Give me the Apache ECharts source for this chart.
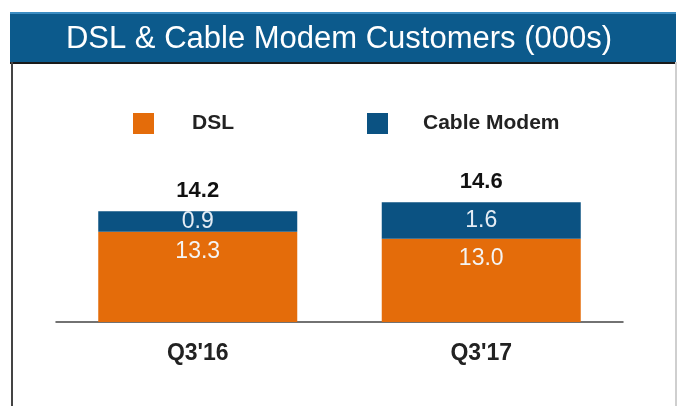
<!DOCTYPE html>
<html>
<head>
<meta charset="utf-8">
<script src="https://cdn.jsdelivr.net/npm/echarts@6/dist/echarts.min.js"></script>
<style>
  html, body { margin: 0; padding: 0; background: #fff; }
  #chart { width: 678px; height: 406px; }
</style>
</head>
<body>
<div id="chart"></div>
<script>
// values (000s)
var quarters = ["Q3'16", "Q3'17"];
var dslValues = [13.3, 13.0];
var cableValues = [0.9, 1.6];
var totalValues = [14.2, 14.6];

var FONT = "'Liberation Sans', Arial, sans-serif";
var ORANGE = '#e46c0a';
var BLUE = '#0b5282';

var chart = echarts.init(document.getElementById('chart'));

chart.setOption({
    animation: false,
    backgroundColor: '#fff',
    title: {
        text: 'DSL & Cable Modem Customers (000s)',
        left: 'center',
        top: 24,
        padding: 0,
        textStyle: {
            color: '#fff',
            fontFamily: FONT,
            fontSize: 31,
            fontWeight: 'normal'
        }
    },
    graphic: [
        // banner and frame
        { type: 'rect', z: -1, shape: { x: 10, y: 12, width: 666, height: 50 }, style: { fill: '#0c5a8c' } },
        { type: 'rect', z: -1, shape: { x: 10, y: 12, width: 666, height: 2 }, style: { fill: '#3b8cc2' } },
        { type: 'rect', z: -1, shape: { x: 10, y: 62, width: 666, height: 2 }, style: { fill: '#1a1a1a' } },
        { type: 'rect', z: -1, shape: { x: 11, y: 62, width: 2, height: 344 }, style: { fill: '#444' } },
        { type: 'rect', z: -1, shape: { x: 675, y: 62, width: 2, height: 344 }, style: { fill: '#cfcfcf' } }
    ],
    legend: [
        {
            data: ['DSL'],
            left: 133,
            top: 113,
            padding: 0,
            selectedMode: false,
            icon: 'rect',
            itemWidth: 21,
            itemHeight: 21,
            textStyle: {
                color: '#222',
                fontFamily: FONT,
                fontSize: 21,
                fontWeight: 'bold',
                padding: [8, 0, 0, 33]
            }
        },
        {
            data: ['Cable Modem'],
            left: 367,
            top: 113,
            padding: 0,
            selectedMode: false,
            icon: 'rect',
            itemWidth: 21,
            itemHeight: 21,
            textStyle: {
                color: '#222',
                fontFamily: FONT,
                fontSize: 21,
                fontWeight: 'bold',
                padding: [8, 0, 0, 30]
            }
        }
    ],
    grid: {
        left: 56,
        right: 55,
        top: 193,
        bottom: 84
    },
    xAxis: {
        type: 'category',
        data: quarters,
        axisLine: { lineStyle: { color: '#444', width: 1.5 } },
        axisTick: { show: false },
        axisLabel: {
            margin: 20,
            color: '#222',
            fontFamily: FONT,
            fontSize: 23,
            fontWeight: 'bold'
        }
    },
    yAxis: {
        type: 'value',
        min: 9.35,
        max: 15,
        show: false,
        splitLine: { show: false }
    },
    series: [
        {
            name: 'DSL',
            type: 'bar',
            stack: 'total',
            barWidth: 199,
            data: dslValues,
            itemStyle: { color: ORANGE },
            label: {
                show: true,
                position: 'insideTop',
                distance: 8,
                color: '#f4f4f4',
                fontFamily: FONT,
                fontSize: 23,
                formatter: function (p) { return p.value.toFixed(1); }
            }
        },
        {
            name: 'Cable Modem',
            type: 'bar',
            stack: 'total',
            data: cableValues,
            itemStyle: { color: BLUE },
            label: {
                show: true,
                position: 'inside',
                color: '#e4ecf4',
                fontFamily: FONT,
                fontSize: 23,
                formatter: function (p) { return p.value.toFixed(1); }
            }
        },
        {
            name: 'Total',
            type: 'bar',
            stack: 'total',
            data: [0, 0],
            itemStyle: { color: 'rgba(0,0,0,0)' },
            label: {
                show: true,
                position: 'top',
                distance: 9,
                color: '#111',
                fontFamily: FONT,
                fontSize: 22,
                fontWeight: 'bold',
                formatter: function (p) { return totalValues[p.dataIndex].toFixed(1); }
            }
        }
    ]
});
</script>
</body>
</html>
